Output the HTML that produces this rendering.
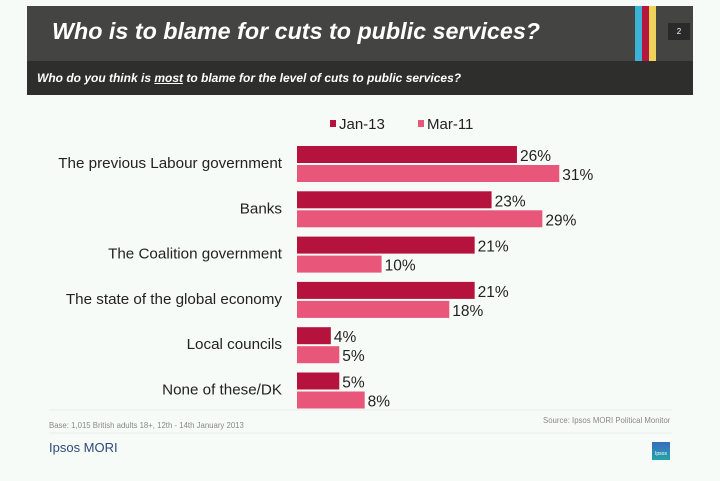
<!DOCTYPE html>
<html><head><meta charset="utf-8"><style>
body{margin:0;width:720px;height:481px;background:#f7fbf8;font-family:"Liberation Sans",sans-serif;overflow:hidden;position:relative}
.a{position:absolute}
</style></head><body>
<div class="a" style="left:27px;top:6px;width:666px;height:55px;background:#444443"></div>
<div class="a" style="left:52px;top:18px;font-size:23.3px;font-weight:bold;font-style:italic;color:#fff">Who is to blame for cuts to public services?</div>
<div class="a" style="left:635px;top:6px;width:7px;height:55px;background:#3ab3d6"></div>
<div class="a" style="left:642px;top:6px;width:7px;height:55px;background:#b5173f"></div>
<div class="a" style="left:649px;top:6px;width:7px;height:55px;background:#efd25a"></div>
<div class="a" style="left:668px;top:23px;width:22px;height:17px;background:#2a2a2a;color:#fff;font-size:8px;text-align:center;line-height:17px">2</div>
<div class="a" style="left:27px;top:61px;width:666px;height:34px;background:#2e2e2d"></div>
<div class="a" style="left:37px;top:71px;font-size:12px;font-weight:bold;font-style:italic;color:#fff">Who do you think is <u>most</u> to blame for the level of cuts to public services?</div>
<svg class="a" style="left:0;top:0" width="720" height="481">
<g id="g"></g>
<line x1="49" y1="410" x2="672" y2="410" stroke="#e8eee9"/>
<line x1="49" y1="433" x2="672" y2="433" stroke="#e8eee9"/>
</svg>
<div class="a" style="left:49px;top:421px;font-size:7.8px;color:#888">Base: 1,015 British adults 18+, 12th - 14th January 2013</div>
<div class="a" style="left:543px;top:416px;font-size:7.8px;color:#888">Source: Ipsos MORI Political Monitor</div>
<div class="a" style="left:49px;top:440px;font-size:13px;color:#2c4a7a">Ipsos MORI</div>
<div class="a" style="left:652px;top:442px;width:18px;height:18px;background:linear-gradient(#3a6ac0,#23a4a8);color:#fff;font-size:5px;text-align:center;line-height:24px">Ipsos</div>
<script>
const categories=["The previous Labour government","Banks","The Coalition government","The state of the global economy","Local councils","None of these/DK"];
const jan13=[26,23,21,21,4,5];
const mar11=[31,29,10,18,5,8];
const seriesNames=["Jan-13","Mar-11"];
const colors=["#b5133d","#e8577a"];
const NS="http://www.w3.org/2000/svg";
const g=document.getElementById('g');
const x0=297,scale=8.46,top0=146,step=45.3,bh=17;
const xs=v=>x0+v*scale;
function mk(t,a,txt){const e=document.createElementNS(NS,t);for(const k in a)e.setAttribute(k,a[k]);if(txt!=null)e.textContent=txt;g.appendChild(e);return e;}
[[330,seriesNames[0],colors[0]],[418,seriesNames[1],colors[1]]].forEach(([x,n,c],i)=>{
 const r=mk('rect',{x:x,y:120,width:6,height:7,fill:c});
 
 
 const t=mk('text',{x:x+9,y:129,'font-size':15,fill:'#222'},n);
 
 
});
categories.forEach((c,i)=>{
 const y=top0+i*step;
 const l=mk('text',{x:282,y:y+22,'text-anchor':'end','font-size':15.2,fill:'#222'},c);
 
 
 [[jan13[i],0],[mar11[i],1]].forEach(([v,s])=>{
  const by=y+s*19;
  const b=mk('rect',{x:x0,y:by,width:xs(v)-x0,height:bh,fill:colors[s]});
  
  
  const t=mk('text',{x:xs(v)+3,y:by+15,'font-size':15.5,fill:'#222'},v+'%');
  
  
 });
});
</script>
</body></html>
